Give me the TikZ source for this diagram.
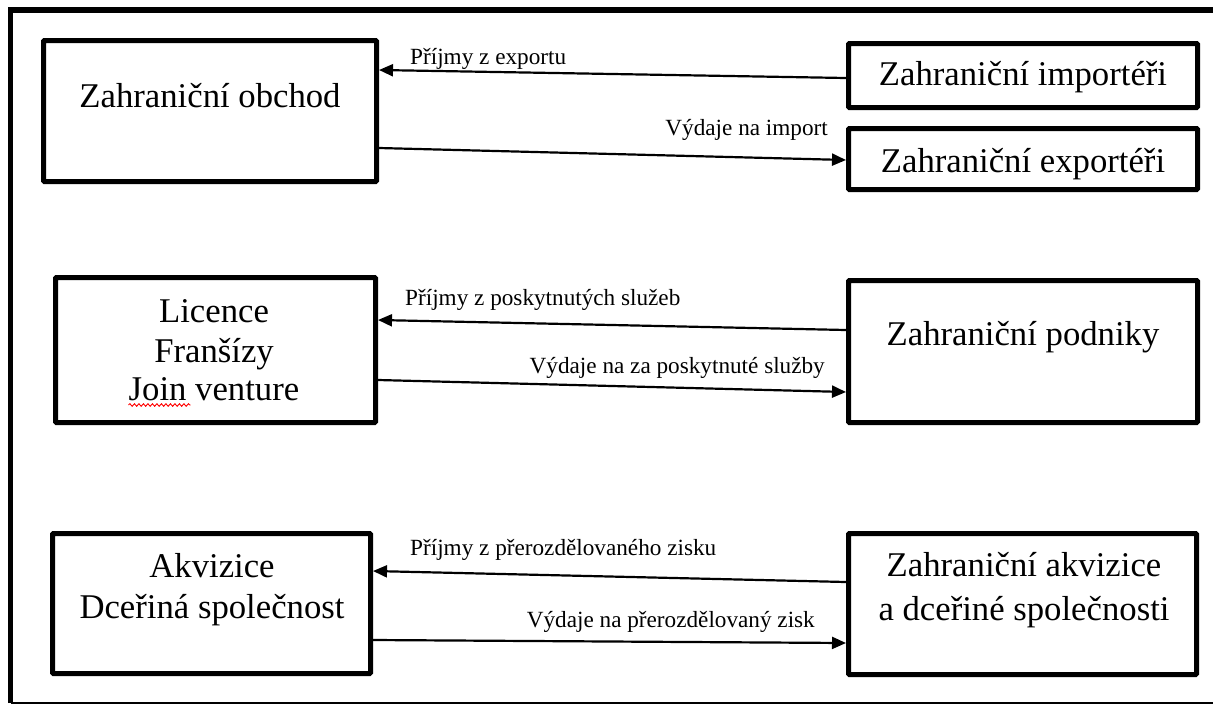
\documentclass[tikz,border=0pt]{standalone}
\usepackage{fontspec}
\setmainfont{Liberation Serif}
\usetikzlibrary{arrows.meta,decorations.pathmorphing}
\begin{document}
\begin{tikzpicture}[x=1pt,y=-1pt,
  box/.style={draw,line width=5pt,rounded corners=1pt,inner sep=0pt,outer sep=2.5pt},
  boxtext/.style={anchor=base,inner sep=0pt,font=\fontsize{34.7}{40}\selectfont},
  lbl/.style={inner sep=0pt,font=\fontsize{23.2}{27}\selectfont},
  flow/.style={line width=2.2pt,-{Triangle[length=14pt,width=12pt]}}]
\useasboundingbox (0,0) rectangle (1213,705);
% outer frame
\draw[line width=5.5pt] (10.5,703) -- (10.5,10) -- (1213,10);
\draw[line width=1.3pt] (10.5,703) -- (1213,703);
% boxes
\node[box,minimum width=333pt,minimum height=141pt] (b1) at (210,111) {};
\node[box,minimum width=349pt,minimum height=64pt] (b2) at (1023,75.5) {};
\node[box,minimum width=349pt,minimum height=61pt] (b3) at (1023,159) {};
\node[box,minimum width=320pt,minimum height=145pt] (b4) at (215.5,350) {};
\node[box,minimum width=349pt,minimum height=142pt] (b5) at (1023,351.5) {};
\node[box,minimum width=318pt,minimum height=140pt] (b6) at (211.5,603.5) {};
\node[box,minimum width=348pt,minimum height=141pt] (b7) at (1022.5,604) {};
% box texts
\node[boxtext] (t1) at (210,107) {Zahraniční obchod};
\node[boxtext] (t2) at (1023,85) {Zahraniční importéři};
\node[boxtext] (t3) at (1023,172) {Zahraniční exportéři};
\node[boxtext] (t4a) at (214,322) {Licence};
\node[boxtext] (t4b) at (214,362) {Franšízy};
\node[boxtext] (t4c) at (214,400) {Join venture};
\node[boxtext] (t5) at (1023,345) {Zahraniční podniky};
\node[boxtext] (t6a) at (212,577) {Akvizice};
\node[boxtext] (t6b) at (212,618) {Dceřiná společnost};
\node[boxtext] (t7a) at (1024,576) {Zahraniční akvizice};
\node[boxtext] (t7b) at (1024,620) {a dceřiné společnosti};
% spell-check squiggle under "Join"
\draw[red,line width=0.9pt,decorate,decoration={snake,amplitude=1.3pt,segment length=4.5pt}]
  ([yshift=-5pt]t4c.base west) -- ++(62,0);
% flows
\draw[flow] ([yshift=-2.5pt]b2.west) -- ([yshift=41pt]b1.east);
\draw[flow] ([yshift=-37pt]b1.east) -- ([yshift=-1pt]b3.west);
\draw[flow] ([yshift=21.5pt]b5.west) -- ([yshift=30pt]b4.east);
\draw[flow] ([yshift=-30pt]b4.east) -- ([yshift=-40.5pt]b5.west);
\draw[flow] ([yshift=22pt]b7.west) -- ([yshift=32.5pt]b6.east);
\draw[flow] ([yshift=-36.5pt]b6.east) -- ([yshift=-39pt]b7.west);
% flow labels
\node[lbl,anchor=base west] (l1) at (410,64) {Příjmy z exportu};
\node[lbl,anchor=base east] (l2) at (828,135) {Výdaje na import};
\node[lbl,anchor=base west] (l3) at (405,305) {Příjmy z poskytnutých služeb};
\node[lbl,anchor=base east] (l4) at (825,373) {Výdaje na za poskytnuté služby};
\node[lbl,anchor=base west] (l5) at (410,555) {Příjmy z přerozdělovaného zisku};
\node[lbl,anchor=base east] (l6) at (815,627) {Výdaje na přerozdělovaný zisk};
\end{tikzpicture}
\end{document}
